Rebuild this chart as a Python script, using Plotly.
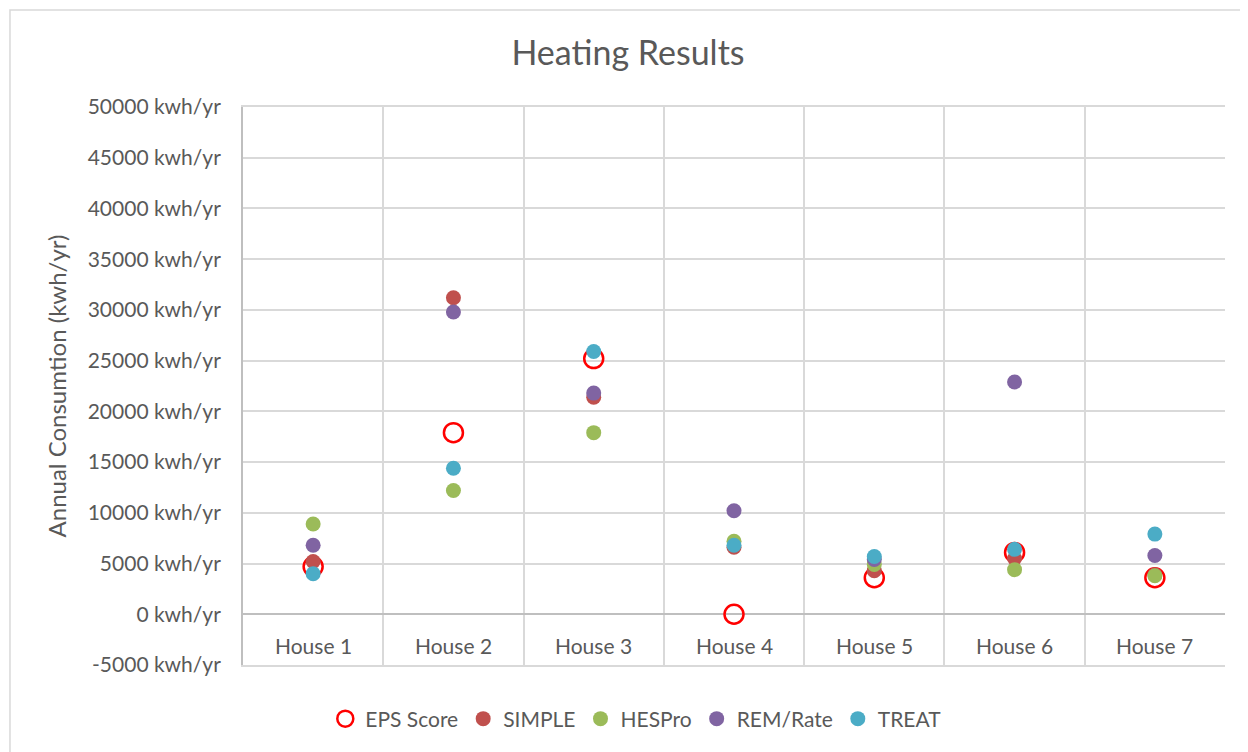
import plotly.graph_objects as go

# Datos
houses = ["House 1", "House 2", "House 3", "House 4", "House 5", "House 6", "House 7"]
eps_score = [4700, 17900, 25200, 0, 3600, 6100, 3600]
simple = [5200, 31200, 21400, 6600, 4300, 5500, 3900]
hespro = [8900, 12200, 17900, 7200, 4900, 4400, 3800]
rem_rate = [6800, 29800, 21800, 10200, 5400, 22900, 5800]
treat = [4000, 14400, 25900, 6800, 5700, 6400, 7900]

y_ticks = list(range(-5000, 50001, 5000))
y_tick_text = [f"{v} kwh/yr" for v in y_ticks]

COLORS = {
    'eps': '#FF0000',
    'simple': '#C0504D',
    'hespro': '#9BBB59',
    'rem': '#8064A2',
    'treat': '#4BACC6',
    'text': '#595959',
    'grid': '#D9D9D9',
}

fig = go.Figure()
fig.add_trace(go.Scatter(
    x=houses, y=eps_score, mode='markers', name='EPS Score',
    marker=dict(size=19, color='rgba(0,0,0,0)', line=dict(color=COLORS['eps'], width=2.5))
))
for name, vals, col in [("SIMPLE", simple, COLORS['simple']),
                        ("HESPro", hespro, COLORS['hespro']),
                        ("REM/Rate", rem_rate, COLORS['rem']),
                        ("TREAT", treat, COLORS['treat'])]:
    fig.add_trace(go.Scatter(
        x=houses, y=vals, mode='markers', name=name,
        marker=dict(size=15, color=col)
    ))

# Etiquetas de categoría dentro del área (estilo Excel, bajo la línea del cero)
for h in houses:
    fig.add_annotation(x=h, y=-3100, xref='x', yref='y', text=h, showarrow=False,
                       font=dict(size=21, color=COLORS['text']))

# la página tiene ~8px de margen en el body, se compensa aquí
fig.update_layout(
    width=1240, height=744,
    paper_bgcolor='white', plot_bgcolor='white',
    font=dict(family="Lato, sans-serif", size=21, color=COLORS['text']),
    title=dict(text="Heating Results", x=0.5, xanchor='center', y=0.94, yanchor='middle',
               font=dict(size=34, color=COLORS['text'])),
    margin=dict(l=235, r=23, t=99, b=78),
    showlegend=True,
    legend=dict(orientation='h', x=0.4, xanchor='center', y=-0.06, yanchor='top',
                font=dict(size=21, color=COLORS['text']), itemsizing='trace'),
    xaxis=dict(
        type='category', categoryorder='array', categoryarray=houses,
        range=[-0.5, 6.5], tickson='boundaries', showgrid=True, gridcolor=COLORS['grid'],
        gridwidth=1.5, ticks='', showticklabels=False,
        showline=True, linecolor=COLORS['grid'], linewidth=1.5, mirror=True,
    ),
    yaxis=dict(
        range=[-5000, 50000], tickvals=y_ticks, ticktext=y_tick_text,
        showgrid=True, gridcolor=COLORS['grid'], gridwidth=1.5,
        zeroline=True, zerolinecolor='#BFBFBF', zerolinewidth=2,
        showline=True, linecolor='#BFBFBF', linewidth=2, ticks='',
        ticklabelstandoff=16,
        title=dict(text="Annual Consumtion (kwh/yr)", standoff=14,
                   font=dict(size=24, color=COLORS['text'])),
        tickfont=dict(size=21, color=COLORS['text']),
    ),
)

# Borde exterior del área del gráfico
fig.add_shape(type='rect', xref='paper', yref='paper',
              x0=-0.2373, x1=1.05, y0=-0.3, y1=1.174,
              line=dict(color=COLORS['grid'], width=1.5), fillcolor='rgba(0,0,0,0)', layer='below')

fig.write_html("out.html")
